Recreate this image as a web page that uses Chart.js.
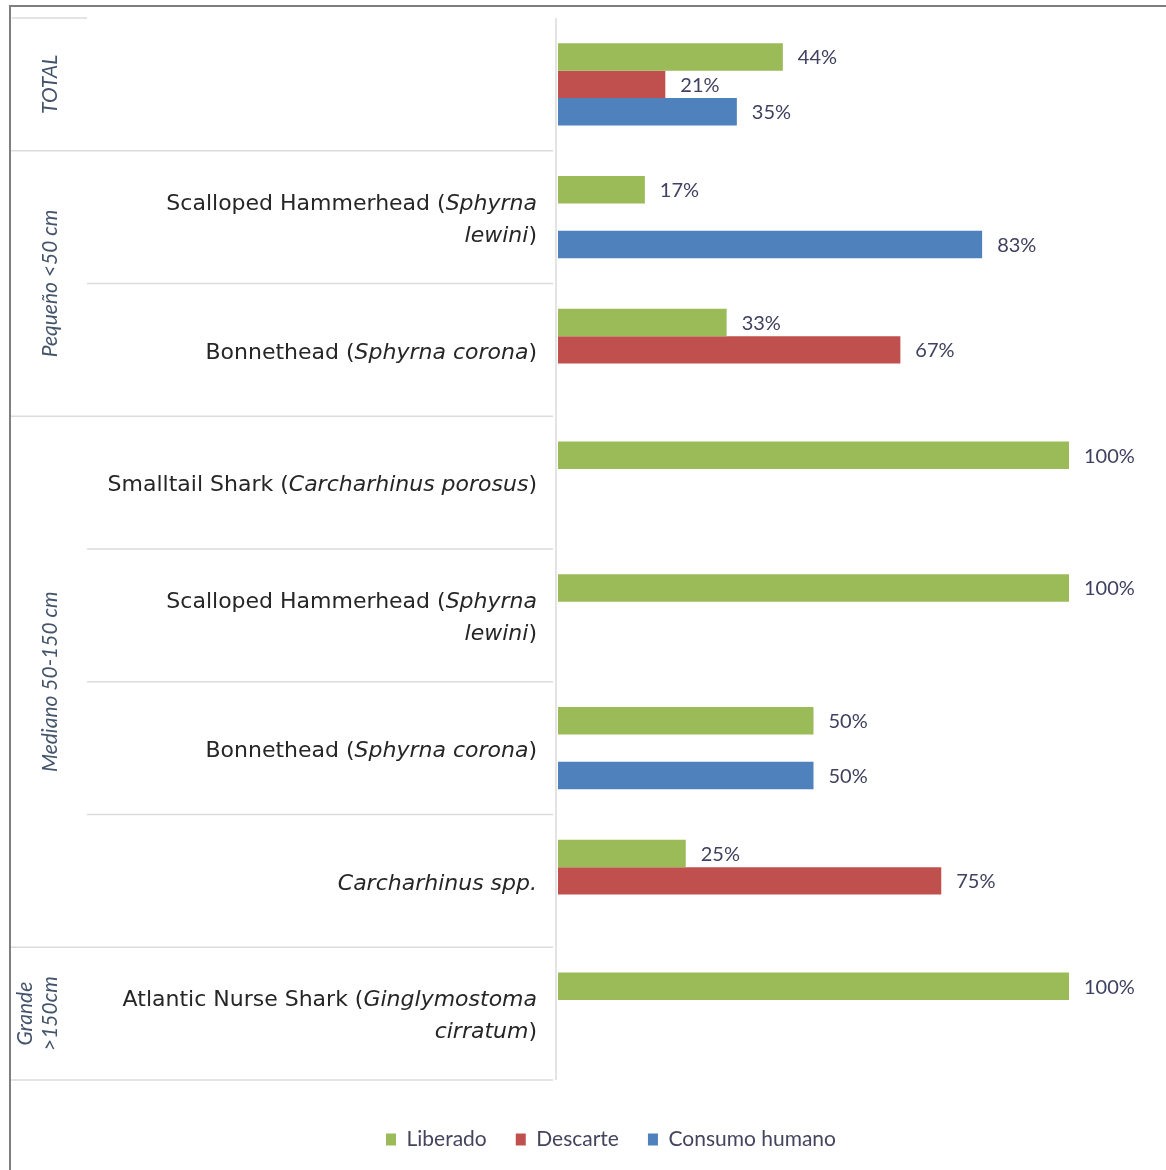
<!DOCTYPE html>
<html>
<head>
<meta charset="utf-8">
<title>Destino de tiburones por talla</title>
<script src="https://cdn.jsdelivr.net/npm/chart.js@4.4.1/dist/chart.umd.min.js"></script>
<style>
  html, body { margin: 0; padding: 0; background: #fff; }
  #wrap { position: relative; width: 1166px; height: 1170px; }
</style>
</head>
<body>
<div id="wrap"><canvas id="sharkChart"></canvas></div>
<script>
// filas del gráfico; *texto* va en cursiva, cada string interno es una línea
const categories = [
  [""],
  ["Scalloped Hammerhead (*Sphyrna*", "*lewini*)"],
  ["Bonnethead (*Sphyrna corona*)"],
  ["Smalltail Shark (*Carcharhinus porosus*)"],
  ["Scalloped Hammerhead (*Sphyrna*", "*lewini*)"],
  ["Bonnethead (*Sphyrna corona*)"],
  ["*Carcharhinus spp.*"],
  ["Atlantic Nurse Shark (*Ginglymostoma*", "*cirratum*)"]
];

// grupos de talla y cuántas filas abarca cada uno
const sizeGroups = [["TOTAL"], ["Pequeño <50 cm"], ["Mediano 50-150 cm"], ["Grande", ">150cm"]];
const groupSizes = [1, 2, 4, 1];

const seriesNames = ["Liberado", "Descarte", "Consumo humano"];
const liberado = [44, 17, 33, 100, 100, 50, 25, 100];
const descarte = [21, 0, 67, 0, 0, 0, 75, 0];
const consumo  = [35, 83, 0, 0, 0, 50, 0, 0];

const COLORS = ["#9bbb59", "#c0504d", "#4f81bd"];
const TEXT_BLUE = "#44546a";
const GRID = "#dcdcdc";

const CAT_FONT = "DejaVu Sans";
const CAT_SIZE = 22;

function drawRichLine(ctx, line, xRight, y) {
  const parts = line.split("*");
  const fonts = parts.map((p, i) => (i % 2 ? "italic " : "") + CAT_SIZE + "px '" + CAT_FONT + "'");
  let total = 0;
  const widths = parts.map((p, i) => {
    ctx.font = fonts[i];
    const w = ctx.measureText(p).width;
    total += w;
    return w;
  });
  let x = xRight - total;
  ctx.textAlign = "left";
  ctx.textBaseline = "middle";
  parts.forEach((p, i) => {
    ctx.font = fonts[i];
    ctx.fillText(p, x, y);
    x += widths[i];
  });
}

// tabla de la izquierda: líneas, nombres de especie y grupos rotados
const tablePlugin = {
  id: "tablePlugin",
  afterDraw(chart) {
    const { ctx, chartArea } = chart;
    const yScale = chart.scales.y;
    const n = categories.length;
    const edges = [chartArea.top];
    for (let i = 0; i < n - 1; i++) {
      edges.push((yScale.getPixelForValue(i) + yScale.getPixelForValue(i + 1)) / 2);
    }
    edges.push(chartArea.bottom);

    const groupEnds = [];
    let acc = 0;
    groupSizes.forEach(s => { acc += s; groupEnds.push(acc); });

    ctx.save();
    ctx.strokeStyle = GRID;
    ctx.lineWidth = 1.5;
    ctx.beginPath();
    // borde superior corto y línea vertical junto a las barras
    ctx.moveTo(12, edges[0]); ctx.lineTo(87, edges[0]);
    ctx.moveTo(556, edges[0]); ctx.lineTo(556, edges[n]);
    for (let i = 1; i <= n; i++) {
      const isGroupEdge = groupEnds.includes(i);
      ctx.moveTo(isGroupEdge ? 10 : 87, edges[i]);
      ctx.lineTo(553, edges[i]);
    }
    ctx.stroke();

    // nombres de especie
    ctx.fillStyle = "#262626";
    categories.forEach((lines, i) => {
      const cy = yScale.getPixelForValue(i) + 3;
      const lh = 32;
      lines.forEach((line, k) => {
        const y = cy + (k - (lines.length - 1) / 2) * lh;
        drawRichLine(ctx, line, 537, y);
      });
    });

    // grupos de talla (texto vertical)
    ctx.fillStyle = TEXT_BLUE;
    ctx.font = "italic 21px Lato";
    ctx.textAlign = "center";
    ctx.textBaseline = "middle";
    let start = 0;
    sizeGroups.forEach((lines, g) => {
      const end = start + groupSizes[g];
      const cy = (edges[start] + edges[end]) / 2;
      lines.forEach((line, k) => {
        const x = 50 - (lines.length - 1 - k) * 25;
        ctx.save();
        ctx.translate(x, cy);
        ctx.rotate(-Math.PI / 2);
        ctx.fillText(line, 0, 0);
        ctx.restore();
      });
      start = end;
    });

    // marco exterior
    ctx.strokeStyle = "#7f7f7f";
    ctx.lineWidth = 2;
    ctx.beginPath();
    ctx.moveTo(10, chart.height);
    ctx.lineTo(10, 6);
    ctx.lineTo(chart.width, 6);
    ctx.stroke();
    ctx.restore();
  }
};

// etiquetas de porcentaje al final de cada barra
const valueLabels = {
  id: "valueLabels",
  afterDatasetsDraw(chart) {
    const { ctx } = chart;
    ctx.save();
    ctx.fillStyle = "#404060";
    ctx.font = "20px Lato";
    ctx.textAlign = "left";
    ctx.textBaseline = "middle";
    chart.data.datasets.forEach((ds, d) => {
      chart.getDatasetMeta(d).data.forEach((bar, i) => {
        const v = ds.data[i];
        if (!v) return;
        ctx.fillText(v + "%", bar.x + 15, bar.y + 1);
      });
    });
    ctx.restore();
  }
};

new Chart(document.getElementById("sharkChart"), {
  type: "bar",
  data: {
    labels: categories,
    datasets: [
      { label: seriesNames[0], data: liberado, backgroundColor: COLORS[0] },
      { label: seriesNames[1], data: descarte, backgroundColor: COLORS[1] },
      { label: seriesNames[2], data: consumo,  backgroundColor: COLORS[2] }
    ]
  },
  options: {
    indexAxis: "y",
    responsive: true,
    maintainAspectRatio: false,
    animation: false,
    datasets: { bar: { categoryPercentage: 0.62, barPercentage: 1.0, borderWidth: 0 } },
    layout: { padding: { left: 153, right: 97, top: 18, bottom: 10 } },
    scales: {
      x: {
        min: 0, max: 100,
        grid: { display: false },
        border: { display: false },
        ticks: { display: false },
        afterFit: s => { s.height = 20; }
      },
      y: {
        grid: { display: false },
        border: { display: false },
        ticks: { display: false },
        afterFit: s => { s.width = 405; }
      }
    },
    plugins: {
      legend: {
        position: "bottom",
        labels: {
          boxWidth: 10, boxHeight: 12,
          padding: 29,
          color: "#44445e",
          font: { family: "Lato", size: 21 }
        }
      },
      tooltip: { enabled: false }
    }
  },
  plugins: [tablePlugin, valueLabels]
});
</script>
</body>
</html>
